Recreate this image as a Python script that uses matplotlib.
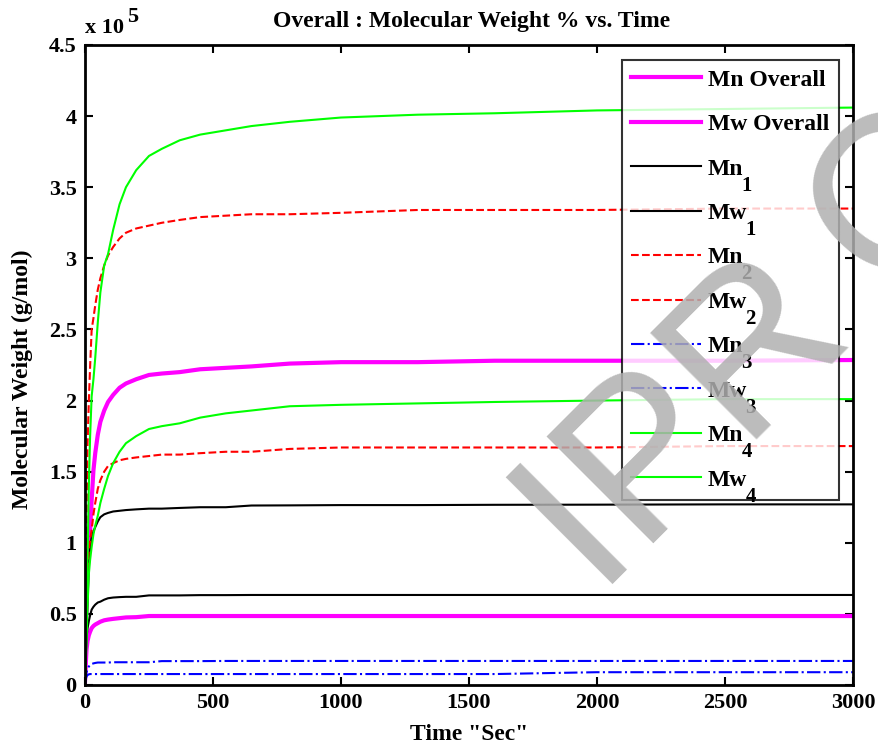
import matplotlib
matplotlib.use('Agg')
import matplotlib.pyplot as plt
from matplotlib.ticker import FuncFormatter, MultipleLocator
import numpy as np

plt.rcParams['font.family'] = ['Liberation Serif', 'DejaVu Serif']
plt.rcParams['font.weight'] = 'bold'

# time (sec)
t = [0, 3, 6, 10, 15, 20, 26, 33, 40, 50, 60, 75, 90, 110, 135, 160, 200, 250,
     300, 370, 450, 550, 650, 800, 1000, 1300, 1600, 2000, 2500, 3000]

# molecular weight, in units of 1e5 g/mol
mn_overall = [0.02, 0.15, 0.25, 0.31, 0.35, 0.375, 0.40, 0.415, 0.425, 0.435, 0.445, 0.455, 0.46, 0.465, 0.47,
              0.475, 0.477, 0.485, 0.485, 0.485, 0.485, 0.485, 0.485, 0.485, 0.485, 0.485, 0.485, 0.485, 0.485, 0.485]
mw_overall = [0.05, 0.30, 0.55, 0.80, 0.95, 1.09, 1.30, 1.51, 1.63, 1.76, 1.85, 1.93, 1.99, 2.04, 2.09,
              2.12, 2.15, 2.18, 2.19, 2.20, 2.22, 2.23, 2.24, 2.26, 2.27, 2.27, 2.28, 2.28, 2.28, 2.285]
mn_1 = [0.02, 0.20, 0.33, 0.40, 0.45, 0.49, 0.53, 0.55, 0.565, 0.58, 0.586, 0.60, 0.61, 0.615, 0.618,
        0.62, 0.62, 0.63, 0.63, 0.63, 0.632, 0.632, 0.633, 0.633, 0.633, 0.633, 0.633, 0.633, 0.633, 0.633]
mw_1 = [0.03, 0.20, 0.40, 0.60, 0.85, 0.97, 1.04, 1.08, 1.11, 1.15, 1.18, 1.20, 1.21, 1.22, 1.225,
        1.23, 1.235, 1.24, 1.24, 1.245, 1.25, 1.25, 1.262, 1.263, 1.265, 1.265, 1.267, 1.268, 1.27, 1.27]
mn_2 = [0.03, 0.30, 0.55, 0.80, 0.95, 1.02, 1.09, 1.20, 1.28, 1.38, 1.44, 1.50, 1.54, 1.56, 1.58,
        1.59, 1.60, 1.61, 1.62, 1.62, 1.63, 1.64, 1.64, 1.66, 1.67, 1.67, 1.67, 1.67, 1.68, 1.68]
mw_2 = [0.05, 0.60, 1.20, 1.70, 2.00, 2.24, 2.50, 2.58, 2.67, 2.78, 2.86, 2.95, 3.02, 3.08, 3.14,
        3.18, 3.21, 3.23, 3.25, 3.27, 3.29, 3.30, 3.31, 3.31, 3.32, 3.34, 3.34, 3.34, 3.35, 3.35]
mn_3 = [0.01, 0.04, 0.06, 0.07, 0.075, 0.077, 0.077, 0.077, 0.077, 0.077, 0.077, 0.077, 0.077, 0.077, 0.077,
        0.077, 0.077, 0.077, 0.077, 0.077, 0.077, 0.077, 0.077, 0.077, 0.077, 0.077, 0.077, 0.09, 0.09, 0.09]
mw_3 = [0.01, 0.06, 0.09, 0.11, 0.13, 0.14, 0.148, 0.152, 0.155, 0.158, 0.158, 0.158, 0.158, 0.16, 0.16,
        0.16, 0.16, 0.16, 0.168, 0.168, 0.168, 0.169, 0.169, 0.169, 0.169, 0.169, 0.169, 0.169, 0.169, 0.169]
mn_4 = [0.03, 0.15, 0.30, 0.55, 0.78, 0.88, 0.97, 1.06, 1.12, 1.19, 1.28, 1.38, 1.47, 1.56, 1.64,
        1.70, 1.75, 1.80, 1.82, 1.84, 1.88, 1.91, 1.93, 1.96, 1.97, 1.98, 1.99, 2.00, 2.01, 2.01]
mw_4 = [0.05, 0.30, 0.50, 0.90, 1.40, 1.75, 2.03, 2.15, 2.30, 2.55, 2.76, 2.95, 3.03, 3.20, 3.38,
        3.50, 3.62, 3.72, 3.77, 3.83, 3.87, 3.90, 3.93, 3.96, 3.99, 4.01, 4.02, 4.04, 4.05, 4.06]

# legend names and their subscripts
names = ['Mn Overall', 'Mw Overall', 'Mn', 'Mw', 'Mn', 'Mw', 'Mn', 'Mw', 'Mn', 'Mw']
subs = ['', '', '1', '1', '2', '2', '3', '3', '4', '4']

fig = plt.figure(figsize=(8.79, 7.52), dpi=100)
ax = fig.add_axes([85/879, 67/752, 768/879, 640/752])

series = [mn_overall, mw_overall, mn_1, mw_1, mn_2, mw_2, mn_3, mw_3, mn_4, mw_4]
colors = ['#ff00ff', '#ff00ff', 'k', 'k', '#ff0000', '#ff0000', '#0000ff', '#0000ff', '#00ff00', '#00ff00']
styles = ['-', '-', '-', '-', '--', '--', '-.', '-.', '-', '-']
widths = [3.0, 3.0, 1.5, 1.5, 1.5, 1.5, 1.5, 1.5, 1.5, 1.5]

for y, c, ls, lw, lab in zip(series, colors, styles, widths, names):
    ax.plot(t, y, color=c, linestyle=ls, linewidth=lw, label=lab)

ax.set_xlim(0, 3000)
ax.set_ylim(0, 4.5)
ax.xaxis.set_major_locator(MultipleLocator(500))
ax.yaxis.set_major_locator(MultipleLocator(0.5))
ax.yaxis.set_major_formatter(FuncFormatter(lambda v, p: '%g' % v))
ax.tick_params(direction='in', length=6, width=1.5, top=True, right=True, labelsize=16, pad=6)
for s in ax.spines.values():
    s.set_linewidth(2)

ax.set_xlabel('Time "Sec"', fontsize=17, fontweight='bold', labelpad=8)
ax.set_ylabel('Molecular Weight (g/mol)', fontsize=17, fontweight='bold')
ax.yaxis.set_label_coords(-0.068, 0.477)
fig.text(472/879, 1 - 27/752, 'Overall : Molecular Weight % vs. Time', ha='center', va='baseline',
         fontsize=17, fontweight='bold')
fig.text(85/879, 1 - 33/752, 'x 10', ha='left', va='baseline', fontsize=16, fontweight='bold')
fig.text(127/879, 1 - 22/752, '5', ha='left', va='baseline', fontsize=16, fontweight='bold')

leg = ax.legend(loc='upper left', bbox_to_anchor=(0.699, 0.977), borderaxespad=0, fontsize=17,
                frameon=True, fancybox=False, handlelength=2.95, handletextpad=0.3,
                labelspacing=0.97, borderpad=0.4)
leg.get_frame().set_edgecolor('k')
leg.get_frame().set_linewidth(1.5)

# big subscripts next to the legend names, like the original
fig.canvas.draw()
r = fig.canvas.get_renderer()
W, H = fig.bbox.width, fig.bbox.height
for txt, sub in zip(leg.get_texts(), subs):
    if not sub:
        continue
    bb = txt.get_window_extent(r)
    base = bb.y0 + 5
    fig.text((bb.x1 - 2) / W, (base - 16) / H, sub, ha='left', va='baseline', fontsize=15,
             fontweight='bold')

# watermark
wm = dict(rotation=45, rotation_mode='anchor', ha='left', va='baseline', fontsize=158,
          family='Liberation Sans', fontweight='normal', color='#b0b0b0', alpha=0.85, zorder=10)
fig.text(593/879, 1 - 584/752, 'IPR', **wm)
fig.text(882/879, 1 - 296/752, 'C', **wm)

fig.savefig('out.png', dpi=100)
